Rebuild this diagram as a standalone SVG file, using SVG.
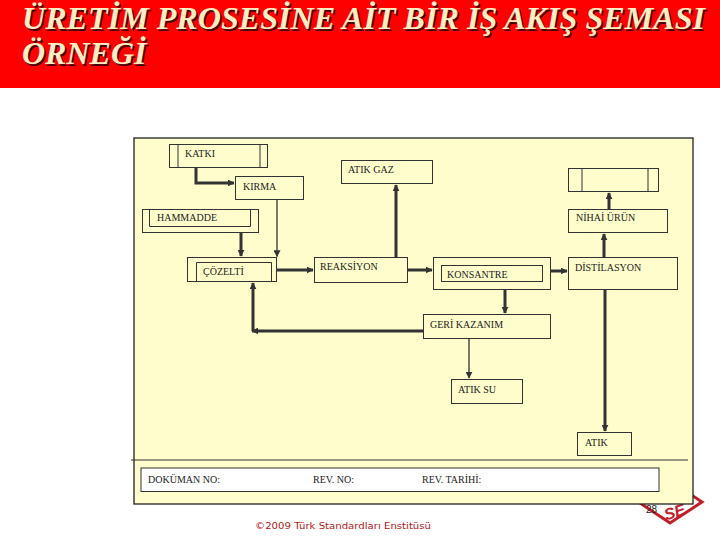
<svg xmlns="http://www.w3.org/2000/svg" width="720" height="540" viewBox="0 0 720 540">
<defs>
<style>
.t{font-family:'Liberation Serif','DejaVu Serif',serif;font-size:10px;fill:#222}
.box{fill:none;stroke:#333;stroke-width:1}
.thick{fill:none;stroke:#333;stroke-width:3}
.thin{fill:none;stroke:#333;stroke-width:1.3}
.title{font-family:'Liberation Serif','DejaVu Serif',serif;font-size:32px;font-weight:bold;font-style:italic}
</style>
<marker id="ah" viewBox="0 0 10 10" refX="9" refY="5" markerWidth="7" markerHeight="7" markerUnits="userSpaceOnUse" orient="auto">
<path d="M0,0 L10,5 L0,10 z" fill="#333"/>
</marker>
</defs>
<rect x="0" y="0" width="720" height="540" fill="#fff"/>
<g id="title">
<rect x="0" y="0" width="720" height="88" fill="#ff0000"/>
<text class="title" x="23.5" y="30.5" fill="#4a0000" textLength="683" lengthAdjust="spacingAndGlyphs">ÜRETİM PROSESİNE AİT BİR İŞ AKIŞ ŞEMASI</text>
<text class="title" x="22" y="29" fill="#fcefc4" textLength="683" lengthAdjust="spacingAndGlyphs">ÜRETİM PROSESİNE AİT BİR İŞ AKIŞ ŞEMASI</text>
<text class="title" x="23.5" y="65.5" fill="#4a0000">ÖRNEĞİ</text>
<text class="title" x="22" y="64" fill="#fcefc4">ÖRNEĞİ</text>
</g>
<g id="logo">
<polygon points="640,503 670,523 702,502 672,482" fill="none" stroke="#c0202a" stroke-width="3"/>
<text x="664" y="517" font-family="'Liberation Sans',Arial,sans-serif" font-size="16" font-weight="bold" font-style="italic" fill="#c0202a" transform="rotate(-18 676 512)">SE</text>
</g>
<g id="panel">
<rect x="134" y="138" width="559" height="366" fill="#fffdcc" stroke="#222" stroke-width="1.3"/>
<line x1="131" y1="460" x2="688" y2="460" stroke="#333" stroke-width="1"/>
<rect x="141" y="468" width="518" height="23.5" fill="#fff" stroke="#333" stroke-width="1"/>
<text class="t" x="148" y="483">DOKÜMAN NO:</text>
<text class="t" x="313" y="483">REV. NO:</text>
<text class="t" x="422" y="483">REV. TARİHİ:</text>
</g>
<text x="646" y="513" font-family="'Liberation Sans',Arial,sans-serif" font-size="10" fill="#222">28</text>
<g id="katki">
<rect class="box" x="169.5" y="144.5" width="98" height="23"/>
<line class="box" x1="178" y1="144.5" x2="178" y2="167.5"/>
<line class="box" x1="260" y1="144.5" x2="260" y2="167.5"/>
<text class="t" x="185" y="157">KATKI</text>
</g>
<g id="kirma">
<rect class="box" x="235.5" y="176.5" width="68" height="23"/>
<text class="t" x="243" y="190">KIRMA</text>
</g>
<g id="atik-gaz">
<rect class="box" x="341.5" y="160.5" width="91" height="23"/>
<text class="t" x="348" y="173">ATIK GAZ</text>
</g>
<g id="hammadde">
<rect class="box" x="142.5" y="209.5" width="116" height="23"/>
<polyline class="box" points="149.5,209.5 149.5,226.5 250.5,226.5 250.5,209.5"/>
<text class="t" x="157" y="221">HAMMADDE</text>
</g>
<g id="cozelti">
<rect class="box" x="187.5" y="257.5" width="89" height="24"/>
<polyline class="box" points="196.5,281.5 196.5,262.5 271.5,262.5 271.5,281.5"/>
<text class="t" x="203" y="275">ÇÖZELTİ</text>
</g>
<g id="reaksiyon">
<rect class="box" x="314.5" y="257.5" width="93" height="25"/>
<text class="t" x="320" y="270">REAKSİYON</text>
</g>
<g id="konsantre">
<rect class="box" x="433.5" y="257.5" width="117" height="32"/>
<rect class="box" x="441.5" y="265.5" width="101" height="16"/>
<text class="t" x="447" y="278">KONSANTRE</text>
</g>
<g id="distilasyon">
<rect class="box" x="568.5" y="257.5" width="109" height="32"/>
<text class="t" x="575" y="271">DİSTİLASYON</text>
</g>
<g id="nihai-urun">
<rect class="box" x="568.5" y="209.5" width="99" height="23"/>
<text class="t" x="576" y="221">NİHAİ ÜRÜN</text>
</g>
<g id="urun-depo">
<rect class="box" x="568.5" y="168.5" width="90" height="23"/>
<line class="box" x1="582" y1="168.5" x2="582" y2="191.5"/>
<line class="box" x1="648" y1="168.5" x2="648" y2="191.5"/>
</g>
<g id="geri-kazanim">
<rect class="box" x="423.5" y="314.5" width="127" height="24"/>
<text class="t" x="430" y="328">GERİ KAZANIM</text>
</g>
<g id="atik-su">
<rect class="box" x="451.5" y="379.5" width="71" height="24"/>
<text class="t" x="458" y="393">ATIK SU</text>
</g>
<g id="atik">
<rect class="box" x="577.5" y="432.5" width="54" height="23"/>
<text class="t" x="585" y="446">ATIK</text>
</g>
<g id="connectors">
<polyline class="thick" points="196,168 196,183 234,183" marker-end="url(#ah)"/>
<line class="thick" x1="241" y1="233" x2="241" y2="256" marker-end="url(#ah)"/>
<line class="thin" x1="277" y1="199.5" x2="277" y2="256.5" marker-end="url(#ah)"/>
<line class="thick" x1="277" y1="270" x2="313" y2="270" marker-end="url(#ah)"/>
<line class="thick" x1="396" y1="257" x2="396" y2="185" marker-end="url(#ah)"/>
<line class="thick" x1="408" y1="270" x2="432" y2="270" marker-end="url(#ah)"/>
<line class="thick" x1="551" y1="271" x2="567" y2="271" marker-end="url(#ah)"/>
<line class="thick" x1="604" y1="257" x2="604" y2="234" marker-end="url(#ah)"/>
<line class="thick" x1="609" y1="209" x2="609" y2="193" marker-end="url(#ah)"/>
<line class="thick" x1="505" y1="290" x2="505" y2="313" marker-end="url(#ah)"/>
<line class="thin" x1="469" y1="339" x2="469" y2="378" marker-end="url(#ah)"/>
<line class="thick" x1="605" y1="290" x2="605" y2="431" marker-end="url(#ah)"/>
<line class="thick" x1="423" y1="331" x2="252" y2="331" marker-end="url(#ah)"/>
<line class="thick" x1="253" y1="331" x2="253" y2="283" marker-end="url(#ah)"/>
</g>
<text x="255" y="529" font-family="'DejaVu Sans',Verdana,sans-serif" font-size="9.5" fill="#b01820" textLength="176" lengthAdjust="spacingAndGlyphs">©2009 Türk Standardları Enstitüsü</text>
</svg>
